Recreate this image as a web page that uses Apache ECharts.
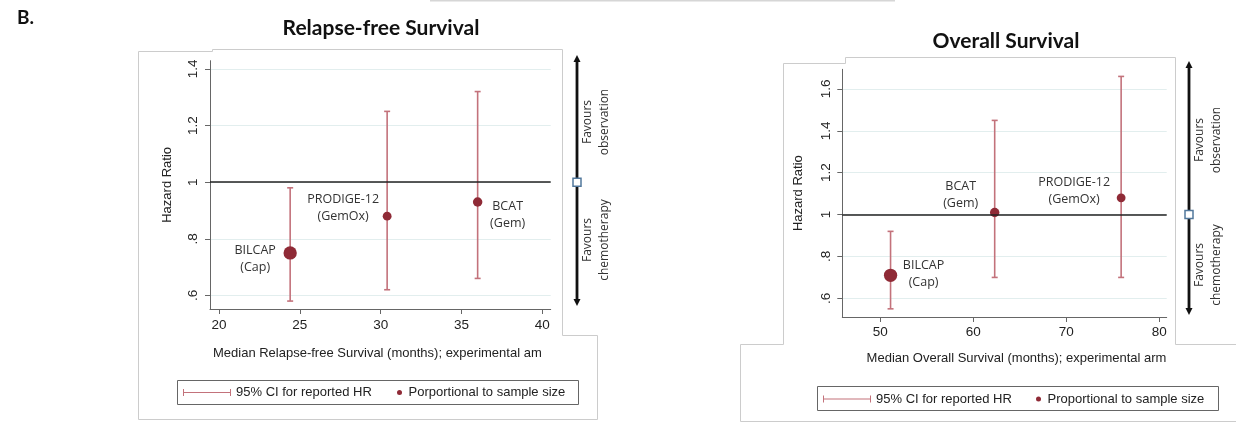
<!DOCTYPE html>
<html><head><meta charset="utf-8">
<script src="https://cdn.jsdelivr.net/npm/echarts@6/dist/echarts.min.js"></script>
<style>html,body{margin:0;padding:0;background:#fff;}#c{width:1236px;height:425px;}</style>
</head><body><div id="c"></div>
<script>
// ---------- data: Relapse-free survival ----------
const trialsRFS   = ['BILCAP', 'PRODIGE-12', 'BCAT'];
const regimensRFS = ['Cap', 'GemOx', 'Gem'];
const medianRFS   = [24.4, 30.4, 36.0];
const hrRFS       = [0.75, 0.88, 0.93];
const ciLowRFS    = [0.58, 0.62, 0.66];
const ciHighRFS   = [0.98, 1.25, 1.32];
const sampleRFS   = [447, 196, 225];

// ---------- data: Overall survival ----------
const trialsOS   = ['BILCAP', 'BCAT', 'PRODIGE-12'];
const regimensOS = ['Cap', 'Gem', 'GemOx'];
const medianOS   = [51.1, 62.3, 75.9];
const hrOS       = [0.71, 1.01, 1.08];
const ciLowOS    = [0.55, 0.70, 0.70];
const ciHighOS   = [0.92, 1.45, 1.66];
const sampleOS   = [447, 225, 196];

// ---------- ticks ----------
const xTicksRFS = [20, 25, 30, 35, 40];
const yTicksRFS = [0.6, 0.8, 1, 1.2, 1.4];
const yTickLabelsRFS = ['.6', '.8', '1', '1.2', '1.4'];
const xTicksOS = [50, 60, 70, 80];
const yTicksOS = [0.6, 0.8, 1, 1.2, 1.4, 1.6];
const yTickLabelsOS = ['.6', '.8', '1', '1.2', '1.4', '1.6'];
const referenceHR = 1;

// ---------- layout / style (not data) ----------
const xRangeRFS = [19.44, 40.52], yRangeRFS = [0.552, 1.429];
const xRangeOS = [45.91, 80.8],  yRangeOS = [0.511, 1.694];
const labelOffsetRFS = [[-35, 6], [-44, -8], [30, 13]];
const labelOffsetOS  = [[33, -1], [-34, -18], [-47, -7]];
const ciColor = '#c3727b', dotColor = '#8f2a36';
const sizeK = 0.63;
const sans = 'Liberation Sans, Arial, sans-serif';
const soft = 'Open Sans, sans-serif';

const chart = echarts.init(document.getElementById('c'), null, {renderer: 'canvas'});

function xAxisCfg(gi, range, ticks, name, margin, gap, pad) {
  return {
    type: 'value', gridIndex: gi, min: range[0], max: range[1],
    name: name, nameLocation: 'middle', nameGap: gap,
    nameTextStyle: {fontFamily: sans, fontSize: 13, color: '#222', padding: pad},
    axisLine: {show: true, onZero: false, lineStyle: {color: '#666', width: 1}},
    axisTick: {show: true, length: 5, customValues: ticks, lineStyle: {color: '#666'}},
    axisLabel: {customValues: ticks, margin: margin, fontFamily: sans, fontSize: 13.5, color: '#222'},
    splitLine: {show: false}
  };
}
function yAxisCfg(gi, range, ticks, labels, margin, gap) {
  return {
    type: 'value', gridIndex: gi, min: range[0], max: range[1],
    name: 'Hazard Ratio', nameLocation: 'middle', nameGap: gap,
    nameTextStyle: {fontFamily: sans, fontSize: 13, color: '#222'},
    axisLine: {show: true, onZero: false, lineStyle: {color: '#666', width: 1}},
    axisTick: {show: true, length: 5, customValues: ticks, lineStyle: {color: '#666'}},
    axisLabel: {
      customValues: ticks, rotate: 90, margin: margin, fontFamily: sans, fontSize: 13.5, color: '#222',
      formatter: function (v) {
        const i = ticks.findIndex(t => Math.abs(t - v) < 1e-6);
        return i >= 0 ? labels[i] : '';
      }
    },
    splitLine: {show: true, lineStyle: {color: '#e2eeee', width: 1}}
  };
}

function ciSeries(idx, xs, lo, hi) {
  return {
    type: 'custom', name: '95% CI for reported HR', xAxisIndex: idx, yAxisIndex: idx, z: 2,
    itemStyle: {color: ciColor},
    encode: {x: 0, y: [1, 2]},
    data: xs.map((x, i) => [x, lo[i], hi[i]]),
    renderItem: function (params, api) {
      const x = api.value(0);
      const a = api.coord([x, api.value(1)]);
      const b = api.coord([x, api.value(2)]);
      const w = 3;
      const st = {stroke: ciColor, lineWidth: 1.6};
      return {type: 'group', children: [
        {type: 'line', shape: {x1: a[0], y1: a[1], x2: b[0], y2: b[1]}, style: st},
        {type: 'line', shape: {x1: a[0] - w, y1: a[1], x2: a[0] + w, y2: a[1]}, style: st},
        {type: 'line', shape: {x1: b[0] - w, y1: b[1], x2: b[0] + w, y2: b[1]}, style: st}
      ]};
    }
  };
}

function dotSeries(idx, name, trials, regs, xs, hrs, ns, offsets) {
  return {
    type: 'scatter', name: name, xAxisIndex: idx, yAxisIndex: idx, z: 3,
    itemStyle: {color: dotColor, opacity: 1},
    emphasis: {disabled: true},
    symbolSize: v => sizeK * Math.sqrt(v[2]),
    data: trials.map((t, i) => ({
      name: t, value: [xs[i], hrs[i], ns[i]],
      label: {offset: offsets[i], formatter: t + '\n(' + regs[i] + ')'}
    })),
    label: {
      show: true, position: 'inside', color: '#333', fontFamily: soft, fontSize: 12.5,
      lineHeight: 17, align: 'center', verticalAlign: 'middle'
    },
    markLine: {
      silent: true, symbol: ['none', 'none'], label: {show: false},
      lineStyle: {color: '#222', width: 1.5, type: 'solid'},
      emphasis: {disabled: true},
      data: [{yAxis: referenceHR}]
    }
  };
}

const ciIcon = 'path://M0,0 L1,0 L1,3 L47,3 L47,0 L48,0 L48,7 L47,7 L47,4 L1,4 L1,7 L0,7 Z';
const legendText = {fontFamily: sans, fontSize: 13, color: '#222'};

chart.setOption({
  animation: false,
  backgroundColor: '#fff',
  title: [
    {text: 'B.', left: 17, top: 8, padding: 0, textStyle: {fontFamily: 'Lato, sans-serif', fontWeight: 'bold', fontSize: 19, color: '#111'}},
    {text: 'Relapse-free Survival', left: 381, top: 18, padding: 0, textAlign: 'center',
     textStyle: {fontFamily: 'Lato, sans-serif', fontWeight: 'bold', fontSize: 21, color: '#111'}},
    {text: 'Overall Survival', left: 1006, top: 31, padding: 0, textAlign: 'center',
     textStyle: {fontFamily: 'Lato, sans-serif', fontWeight: 'bold', fontSize: 21, color: '#111'}}
  ],
  grid: [
    {left: 210, top: 60.7, width: 340.7, height: 248.3},
    {left: 842.3, top: 69.3, width: 324.4, height: 247.7}
  ],
  xAxis: [
    xAxisCfg(0, xRangeRFS, xTicksRFS, 'Median Relapse-free Survival (months); experimental am', 9, 38, [0, 6, 0, 0]),
    xAxisCfg(1, xRangeOS, xTicksOS, 'Median Overall Survival (months); experimental arm', 8, 35, [0, 0, 0, 24])
  ],
  yAxis: [
    yAxisCfg(0, yRangeRFS, yTicksRFS, yTickLabelsRFS, 10, 36),
    yAxisCfg(1, yRangeOS, yTicksOS, yTickLabelsOS, 9, 37.5)
  ],
  legend: [
    {data: [{name: '95% CI for reported HR', icon: ciIcon, itemStyle: {color: ciColor}}],
     left: 183, top: 386, padding: 0, itemWidth: 48, itemHeight: 7, selectedMode: false, textStyle: legendText},
    {data: [{name: 'Porportional to sample size', icon: 'circle', itemStyle: {color: dotColor}}],
     left: 397, top: 386, padding: 0, itemWidth: 8, itemHeight: 5, selectedMode: false, textStyle: legendText},
    {data: [{name: '95% CI for reported HR', icon: ciIcon, itemStyle: {color: ciColor}}],
     left: 823, top: 392.5, padding: 0, itemWidth: 48, itemHeight: 7, selectedMode: false, textStyle: legendText},
    {data: [{name: 'Proportional to sample size', icon: 'circle', itemStyle: {color: dotColor}}],
     left: 1036, top: 392.5, padding: 0, itemWidth: 8, itemHeight: 5, selectedMode: false, textStyle: legendText}
  ],
  series: [
    ciSeries(0, medianRFS, ciLowRFS, ciHighRFS),
    dotSeries(0, 'Porportional to sample size', trialsRFS, regimensRFS, medianRFS, hrRFS, sampleRFS, labelOffsetRFS),
    ciSeries(1, medianOS, ciLowOS, ciHighOS),
    dotSeries(1, 'Proportional to sample size', trialsOS, regimensOS, medianOS, hrOS, sampleOS, labelOffsetOS)
  ]
});

// ---------- annotations (frames, arrows, favours text, legend boxes) ----------
const frame = {stroke: '#cccccc', lineWidth: 1, fill: null};
function arrow(x, y1, y2, ySq) {
  const h = 7, w = 3.5;
  return [
    {type: 'line', silent: true, shape: {x1: x, y1: y1 + h - 1, x2: x, y2: y2 - h + 1}, style: {stroke: '#111', lineWidth: 2.8}},
    {type: 'polygon', silent: true, shape: {points: [[x, y1], [x - w, y1 + h], [x + w, y1 + h]]}, style: {fill: '#111'}},
    {type: 'polygon', silent: true, shape: {points: [[x, y2], [x - w, y2 - h], [x + w, y2 - h]]}, style: {fill: '#111'}},
    {type: 'rect', silent: true, shape: {x: x - 4, y: ySq - 4, width: 8, height: 8}, style: {fill: '#fff', stroke: '#52789c', lineWidth: 1.5}}
  ];
}
function favours(x, y, txt) {
  return {type: 'text', silent: true, x: x, y: y, rotation: Math.PI / 2,
    style: {text: txt, align: 'center', verticalAlign: 'middle', fontFamily: soft, fontSize: 12, lineHeight: 17, fill: '#333'}};
}
const yRefL = chart.convertToPixel({yAxisIndex: 0}, referenceHR);
const yRefR = chart.convertToPixel({yAxisIndex: 1}, referenceHR);

chart.setOption({
  graphic: [
    {type: 'line', silent: true, shape: {x1: 430, y1: 0.5, x2: 895, y2: 0.5}, style: {stroke: '#d6d6d6', lineWidth: 2}},
    {type: 'polyline', silent: true, shape: {points: [[138.5, 51.5], [212.5, 51.5], [212.5, 49.5], [562.5, 49.5], [562.5, 335.5], [597.5, 335.5], [597.5, 419.5], [138.5, 419.5], [138.5, 51.5]]}, style: frame},
    {type: 'polyline', silent: true, shape: {points: [[783.5, 344.5], [783.5, 63.5], [845.5, 63.5], [845.5, 57.5], [1175.5, 57.5], [1175.5, 344.5], [1240, 344.5]]}, style: frame},
    {type: 'polyline', silent: true, shape: {points: [[1240, 421.5], [740.5, 421.5], [740.5, 344.5], [783.5, 344.5]]}, style: frame},
    {type: 'rect', silent: true, shape: {x: 177.5, y: 380.5, width: 401, height: 24}, style: {fill: null, stroke: '#666', lineWidth: 1}},
    {type: 'rect', silent: true, shape: {x: 817.5, y: 386.5, width: 401, height: 24}, style: {fill: null, stroke: '#666', lineWidth: 1}},
    ...arrow(577, 55, 306, yRefL),
    ...arrow(1189, 61, 315, yRefR),
    favours(596.5, 122, 'Favours\nobservation'),
    favours(596.5, 240, 'Favours\nchemotherapy'),
    favours(1208, 140, 'Favours\nobservation'),
    favours(1208, 265, 'Favours\nchemotherapy')
  ]
});
</script></body></html>
